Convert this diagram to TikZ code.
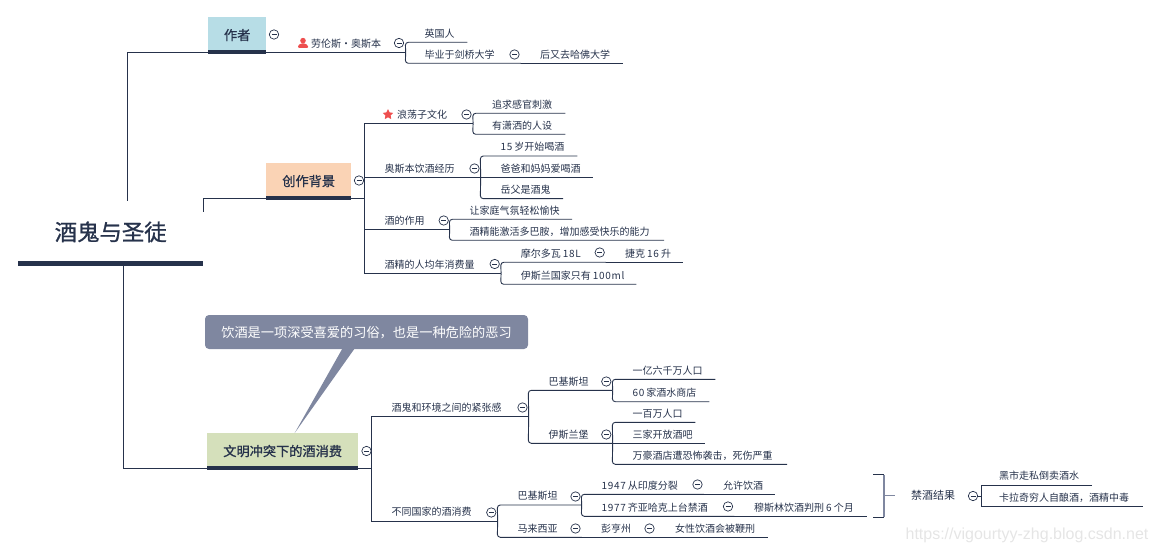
\documentclass[tikz,border=0pt]{standalone}
\usepackage{fontspec}
\setmainfont{Noto Sans CJK SC}
\newfontfamily\headfont[FakeBold=1]{Noto Sans CJK SC}
\newfontfamily\markfont{Liberation Sans}
\newcommand{\numtext}[1]{{\addfontfeature{LetterSpace=7}#1}}
\usetikzlibrary{shapes.geometric,positioning}
\definecolor{mapInk}{HTML}{26324B}
\definecolor{mapBlue}{HTML}{B7DDE6}
\definecolor{mapPeach}{HTML}{FAD3B5}
\definecolor{mapGreen}{HTML}{D5E0BB}
\definecolor{mapNote}{HTML}{7F87A0}
\definecolor{mapRed}{HTML}{EE4F4F}
\tikzset{pad/.store in=\toppad,pad=20pt}
\begin{document}
\begin{tikzpicture}[
  x=1pt,y=-1pt,font=\fontsize{10pt}{12pt}\selectfont,text=mapInk,
  root/.style={anchor=south west,minimum width=185pt,minimum height=62.8pt,inner sep=0pt,
               font=\fontsize{22.4pt}{26pt}\headfont},
  maintopic/.style={anchor=south west,minimum height=35pt,inner sep=0pt,text height=11pt,text depth=0pt,
                    font=\fontsize{13.2pt}{16pt}\headfont},
  topic/.style={anchor=south west,text width=#1,align=left,inner xsep=0pt,inner ysep=4.3pt,
                text height=9.3pt,text depth=0.7pt,execute at begin node={\hspace*{\toppad}}},
  fold/.style={circle,draw=mapInk,line width=0.7pt,fill=white,minimum size=9.4pt,inner sep=0pt},
  link/.style={draw=mapInk,line width=0.9pt},
  bar/.style={draw=mapInk,line width=4pt},
  callout/.style={fill=mapNote,rounded corners=4pt,text=white,minimum width=323pt,minimum height=34pt,
                  inner sep=0pt,text height=11pt,text depth=0pt,font=\fontsize{13.2pt}{16pt}\selectfont}
]
\useasboundingbox (0,0) rectangle (1159,553);
\node[root] (drunk) at (18,263.5) {酒鬼与圣徒};
\node[maintopic,fill=mapBlue,minimum width=58pt] (author) at (208,52.3) {作者};
\node[maintopic,fill=mapPeach,minimum width=85pt] (background) at (266,198.3) {创作背景};
\node[maintopic,fill=mapGreen,minimum width=151pt] (culture) at (207,468.3) {文明冲突下的酒消费};
\coordinate (drunkTop) at (127.5,200.7);
\coordinate (drunkRight) at (203.5,212);
\coordinate (drunkBottom) at (123.5,266);

\node[topic=139.3pt,pad=45pt] (lawrence) at (266,52.3) {劳伦斯·奥斯本};
\node[topic=61.7pt,pad=19pt] (british) at (405.3,42.3) {英国人};
\node[topic=115.2pt,pad=19pt] (cambridge) at (405.3,63.3) {毕业于剑桥大学};
\node[topic=102.2pt,pad=19.5pt] (harvard) at (520.5,63.3) {后又去哈佛大学};

\node[topic=108.2pt,pad=32.5pt] (libertine) at (364.5,123.3) {浪荡子文化};
\node[topic=92.3pt,pad=19.3pt] (pursuit) at (472.7,113.3) {追求感官刺激};
\node[topic=92.3pt,pad=19.3pt] (image) at (472.7,134.3) {有潇洒的人设};
\node[topic=115.8pt] (drinking) at (364.5,177.3) {奥斯本饮酒经历};
\node[topic=96.7pt] (age) at (480.3,156) {\numtext{15}\hspace{2pt}岁开始喝酒};
\node[topic=112.7pt] (parents) at (480.3,177.3) {爸爸和妈妈爱喝酒};
\node[topic=82.4pt] (father) at (480.3,198.7) {岳父是酒鬼};
\node[topic=84.8pt] (role) at (364.5,229.3) {酒的作用};
\node[topic=122.4pt] (mood) at (449.3,219.3) {让家庭气氛轻松愉快};
\node[topic=214.4pt] (dopamine) at (449.3,240.3) {酒精能激活多巴胺，增加感受快乐的能力};
\node[topic=136.2pt] (percapita) at (364.5,273.3) {酒精的人均年消费量};
\node[topic=104.8pt] (moldova) at (500.7,262.3) {摩尔多瓦\hspace{2pt}\numtext{18L}};
\node[topic=77.2pt,pad=19.5pt] (czech) at (605.5,262.3) {捷克\hspace{2pt}\numtext{16}\hspace{2pt}升};
\node[topic=135.3pt] (israel) at (500.7,284.3) {伊斯兰国家只有\hspace{2pt}\numtext{100ml}};

\node[topic=157pt] (tension) at (371.3,416.3) {酒鬼和环境之间的紧张感};
\node[topic=84pt] (pakistan) at (528.3,390.3) {巴基斯坦};
\node[topic=102.7pt] (people) at (612.3,379.3) {一亿六千万人口};
\node[topic=96.7pt] (shops) at (612.3,401.7) {\numtext{60}\hspace{2pt}家酒水商店};
\node[topic=84pt] (islamabad) at (528.3,443.3) {伊斯兰堡};
\node[topic=82.7pt] (million) at (612.3,422.3) {一百万人口};
\node[topic=92.7pt] (bars) at (612.3,443.3) {三家开放酒吧};
\node[topic=174.4pt] (marriott) at (612.3,464.3) {万豪酒店遭恐怖袭击，死伤严重};
\node[topic=126pt] (countries) at (371.3,521) {不同国家的酒消费};
\node[topic=84pt] (pakistanB) at (497.3,505) {巴基斯坦};
\node[topic=122.2pt] (split) at (581.3,494.3) {\numtext{1947}\hspace{2pt}从印度分裂};
\node[topic=71.5pt,pad=19.5pt] (allow) at (703.5,494.3) {允许饮酒};
\node[topic=152.7pt] (zia) at (581.3,516.3) {\numtext{1977}\hspace{2pt}齐亚哈克上台禁酒};
\node[topic=132.7pt] (penalty) at (734,516.3) {穆斯林饮酒判刑\hspace{2pt}\numtext{6}\hspace{2pt}个月};
\node[topic=84.2pt] (malaysia) at (497.3,537.3) {马来西亚};
\node[topic=74pt,pad=19.5pt] (pahang) at (581.5,537.3) {彭亨州};
\node[topic=112.2pt,pad=19.5pt] (women) at (655.5,537.3) {女性饮酒会被鞭刑};

\node[inner sep=0pt,minimum width=76pt,font=\fontsize{11pt}{13pt}\selectfont] (result) at (933,495) {禁酒结果};
\node[topic=110.7pt,pad=18pt] (market) at (981,485) {黑市走私倒卖酒水};
\node[topic=161.7pt,pad=18pt] (homebrew) at (981,506.3) {卡拉奇穷人自酿酒，酒精中毒};
\node[fold] (resultFold) at (973,496) {\rule{5pt}{0.6pt}};

\draw[link] (drunkTop) |- (author.south west);
\draw[link] (drunkRight) |- (background.south west);
\draw[link] (drunkBottom) |- (culture.south west);
\foreach \p/\c in {author/lawrence,background/libertine,background/drinking,background/role,background/percapita,
                   culture/tension,culture/countries,cambridge/harvard,moldova/czech,split/allow,zia/penalty,
                   malaysia/pahang,pahang/women,drinking/parents,islamabad/bars}
  \draw[link] (\p.south east) -- (\c.south west |- \p.south east) -- (\c.south west) -- (\c.south east);
\foreach \p/\c in {lawrence/british,lawrence/cambridge,libertine/pursuit,libertine/image,drinking/age,drinking/father,
                   role/mood,role/dopamine,percapita/moldova,percapita/israel,tension/pakistan,tension/islamabad,
                   pakistan/people,pakistan/shops,islamabad/million,islamabad/marriott,countries/pakistanB,
                   countries/malaysia,pakistanB/split,pakistanB/zia}
  \draw[link,rounded corners=3pt] (\p.south east) -- (\c.south west) -- (\c.south east);
\draw[link] (market.south east) -- (market.south west) -- (homebrew.south west) -- (homebrew.south east);
\draw[link] (resultFold.east) -- (resultFold.east -| market.south west);

\draw[bar] (author.south west) -- (author.south east);
\draw[bar] (background.south west) -- (background.south east);
\draw[bar] (culture.south west) -- (culture.south east);
\draw[draw=mapInk,line width=5pt] (drunk.south west) -- (drunk.south east);

\coordinate (limitTop) at (873.3,474.7);
\coordinate (limitBottom) at (873.3,517.3);
\coordinate (limitMid) at (884,495);
\draw[link,line width=0.8pt] (limitTop) -- (limitTop -| limitMid);
\draw[link,line width=0.8pt] (limitBottom) -- (limitBottom -| limitMid);
\draw[draw=mapNote,line width=1.4pt] (limitTop -| limitMid) -- (limitBottom -| limitMid);
\draw[link,line width=0.8pt,draw=mapNote] (limitMid) -- (result.west);

\foreach \x/\y [count=\i] in {274/34.5,399/43,514.5/54.5,359/180.5,466.5/114.5,474.5/168.5,443.7/220.5,494.7/264,
                              599.7/252.5,366.5/451,522.5/407.5,606.3/381.5,606.3/434.5,491.3/512.5,575.5/496.5,
                              697.5/484.5,728/506.5,575.5/528.5,649.5/528.5}
  \node[fold] (fold\i) at (\x,\y) {\rule{5pt}{0.6pt}};

\node[circle,fill=mapRed,minimum size=5.6pt,inner sep=0pt] (personHead) at (303,40.6) {};
\fill[mapRed,rounded corners=1pt] (298,48) -- (298,45.5) -- (301,43.5) -- (305,43.5) -- (308,45.5) -- (308,48) -- cycle;
\node[star,star points=5,star point ratio=2,fill=mapRed,minimum size=11pt,inner sep=0pt] (libertineStar) at (388,114.6) {};

\node[callout] (note) at (366.5,332) {饮酒是一项深受喜爱的习俗，也是一种危险的恶习};
\coordinate (noteTip) at (294.7,433);
\fill[mapNote] (342.7,348) -- (355,348) -- (noteTip) -- cycle;

\node[text=black!10,font=\fontsize{16pt}{18pt}\markfont,inner sep=0pt] (watermark) at (1027,535) {https://vigourtyy-zhg.blog.csdn.net};
\end{tikzpicture}
\end{document}
